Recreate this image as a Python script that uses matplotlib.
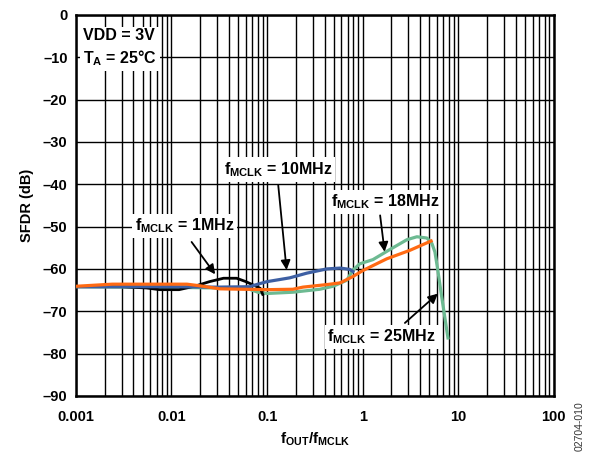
import matplotlib.pyplot as plt
from matplotlib.ticker import FixedLocator, LogLocator, NullFormatter

plt.rcParams['font.family'] = ['Liberation Sans', 'DejaVu Sans']
plt.rcParams['font.weight'] = 'bold'
plt.rcParams['mathtext.fontset'] = 'custom'
plt.rcParams['mathtext.rm'] = 'Liberation Sans:bold'
plt.rcParams['mathtext.bf'] = 'Liberation Sans:bold'

# data (f_out/f_mclk, SFDR dB)
f_1mhz = [0.001, 0.003, 0.0055, 0.0075, 0.012, 0.018, 0.025, 0.035, 0.048, 0.06, 0.075, 0.085, 0.09]
sfdr_1mhz = [-64.2, -64.2, -64.5, -64.9, -64.9, -64.0, -63.0, -62.2, -62.2, -63.0, -64.0, -64.6, -66.0]

f_10mhz = [0.001, 0.01, 0.03, 0.066, 0.08, 0.1, 0.136, 0.173, 0.26, 0.42, 0.58, 0.73, 0.79]
sfdr_10mhz = [-64.2, -64.2, -64.3, -64.2, -63.6, -63.0, -62.5, -62.1, -61.0, -60.0, -59.8, -60.1, -60.6]

f_18mhz = [0.001, 0.0024, 0.0145, 0.02, 0.032, 0.1, 0.186, 0.237, 0.42, 0.58, 0.79, 1.0, 1.79, 3.12, 5.2]
sfdr_18mhz = [-64.1, -63.6, -63.6, -64.0, -64.7, -64.9, -64.8, -64.3, -63.7, -63.3, -61.8, -60.4, -57.6, -55.6, -53.4]

f_25mhz = [0.001, 0.015, 0.03, 0.06, 0.08, 0.1, 0.186, 0.356, 0.49, 0.68, 0.79, 0.93, 1.28, 1.93,
           2.9, 3.69, 4.7, 5.3, 5.7, 6.1, 6.7, 7.8]
sfdr_25mhz = [-64.2, -64.4, -64.5, -64.5, -65.5, -65.8, -65.5, -64.8, -64.1, -62.7, -60.3, -58.8,
              -57.8, -55.4, -53.1, -52.4, -52.7, -54.0, -56.0, -60.2, -66.5, -76.3]

yticks = [0, -10, -20, -30, -40, -50, -60, -70, -80, -90]
xticks = [0.001, 0.01, 0.1, 1, 10, 100]
xticklabels = ['0.001', '0.01', '0.1', '1', '10', '100']

fig = plt.figure(figsize=(5.93, 4.53), dpi=100)
ax = fig.add_axes([0.128, 0.126, 0.806, 0.841])

ax.plot(f_25mhz, sfdr_25mhz, color='#6dba92', lw=2.3, zorder=3)
ax.plot(f_1mhz, sfdr_1mhz, color='black', lw=2.0, zorder=4)
ax.plot(f_10mhz, sfdr_10mhz, color='#3d5fa3', lw=2.3, zorder=4)
ax.plot(f_18mhz, sfdr_18mhz, color='#ff6a13', lw=2.3, zorder=5)

ax.set_xscale('log')
ax.set_xlim(0.001, 100)
ax.set_ylim(-90, 0)
ax.xaxis.set_major_locator(FixedLocator(xticks))
ax.set_xticklabels(xticklabels)
ax.xaxis.set_minor_locator(LogLocator(base=10, subs=range(2, 10)))
ax.xaxis.set_minor_formatter(NullFormatter())
ax.set_yticks(yticks)
ax.set_yticklabels([('\u2013' + str(-v)) if v < 0 else '0' for v in yticks])
ax.tick_params(which='both', length=0, labelsize=10.5)
ax.tick_params(axis='x', pad=10)
ax.tick_params(axis='y', pad=6)
ax.grid(True, which='major', color='black', lw=1.0)
ax.grid(True, which='minor', axis='x', color='black', lw=1.0)
for s in ax.spines.values():
    s.set_linewidth(1.8)

ax.set_xlabel(r'f$_\mathrm{OUT}$/f$_\mathrm{MCLK}$', fontsize=11, fontweight='bold', labelpad=5)
ax.set_ylabel('SFDR (dB)', fontsize=10.5, fontweight='bold', labelpad=6)

box = dict(facecolor='white', edgecolor='none', pad=2)
ax.text(0.015, 0.965, 'VDD = 3V\n' + r'T$_\mathrm{A}$ = 25°C', transform=ax.transAxes,
        ha='left', va='top', fontsize=11.5, fontweight='bold', linespacing=1.35, bbox=box, zorder=6)

arrow = dict(arrowstyle='-|>', color='black', lw=1.3, mutation_scale=14)
labels = [
    (r'f$_\mathrm{MCLK}$ = 1MHz', (0.0298, -61.8), (0.0138, -49.8), (0.0156, -53.1)),
    (r'f$_\mathrm{MCLK}$ = 10MHz', (0.161, -60.9), (0.13, -36.5), (0.13, -39.6)),
    (r'f$_\mathrm{MCLK}$ = 18MHz', (1.71, -56.6), (1.71, -44.1), (1.51, -46.7)),
    (r'f$_\mathrm{MCLK}$ = 25MHz', (6.43, -65.4), (1.58, -76.1), (2.63, -73.2)),
]
for txt, head, pos, tail in labels:
    ax.annotate('', xy=head, xytext=tail, arrowprops=arrow, zorder=7)
    ax.text(pos[0], pos[1], txt, ha='center', va='center', fontsize=11.5,
            fontweight='bold', bbox=box, zorder=6)

fig.text(0.978, 0.06, '02704-010', rotation=90, ha='center', va='center',
         fontsize=7.5, fontweight='normal', color='#333333')

fig.savefig('out.png', dpi=100)
